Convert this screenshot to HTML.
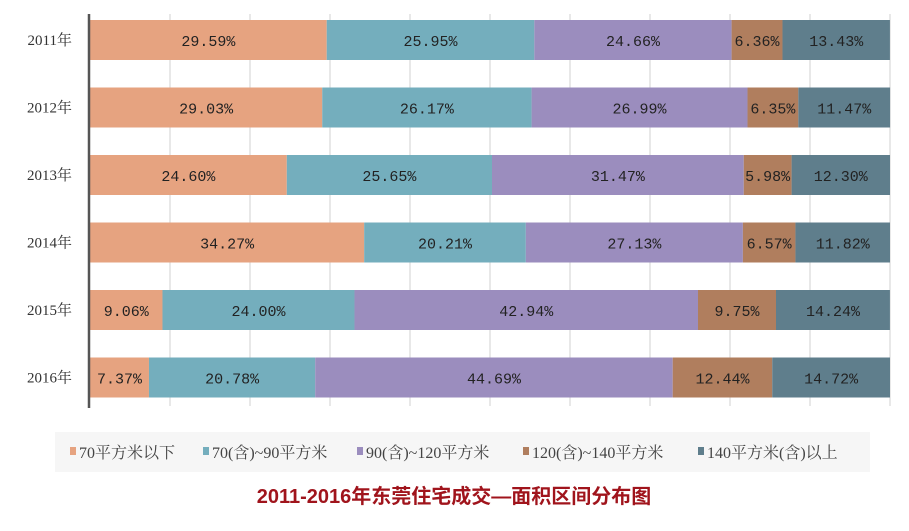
<!DOCTYPE html>
<html><head><meta charset="utf-8"><style>
body{margin:0;background:#fff;width:909px;height:526px;overflow:hidden;font-family:"Liberation Serif","Noto Serif CJK SC",serif}
</style></head><body>
<svg id="c" width="909" height="526"></svg>
<script>
const years=["2011年","2012年","2013年","2014年","2015年","2016年"];
const s1=[29.59,29.03,24.60,34.27,9.06,7.37];
const s2=[25.95,26.17,25.65,20.21,24.00,20.78];
const s3=[24.66,26.99,31.47,27.13,42.94,44.69];
const s4=[6.36,6.35,5.98,6.57,9.75,12.44];
const s5=[13.43,11.47,12.30,11.82,14.24,14.72];
const seriesNames=["70平方米以下","70(含)~90平方米","90(含)~120平方米","120(含)~140平方米","140平方米(含)以上"];
const colors=["#E6A380","#74AEBD","#9B8DBE","#B07E5E","#5F7E8C"];
const series=[s1,s2,s3,s4,s5];
const NS="http://www.w3.org/2000/svg",svg=document.getElementById('c');
const x0=90,x1=890,xs=v=>x0+v/100*(x1-x0);
const yRow=i=>20+i*67.5,bh=40;
function mk(t,a){const e=document.createElementNS(NS,t);for(const k in a)e.setAttribute(k,a[k]);svg.appendChild(e);return e;}
for(let k=1;k<=10;k++){const g=mk('line',{x1:xs(k*10),x2:xs(k*10),y1:14,y2:406,stroke:'#d8d8d8','stroke-width':1.2});

}
years.forEach((y,i)=>{
 const t=mk('text',{x:72,y:yRow(i)+bh/2+5,'text-anchor':'end','font-size':15,fill:'#333'});t.textContent=y;
 
 
 let acc=0;
 series.forEach((s,j)=>{
  const r=mk('rect',{x:xs(acc),y:yRow(i),width:xs(acc+s[i])-xs(acc),height:bh,fill:colors[j]});
  
  
  const tx=mk('text',{x:(xs(acc)+xs(acc+s[i]))/2,y:yRow(i)+bh/2+6,'text-anchor':'middle','font-size':15,fill:'#222','font-family':'Liberation Mono,monospace'});
  tx.textContent=s[i].toFixed(2)+'%';
  
  
  acc+=s[i];
 });
});
const ax=mk('line',{x1:89,x2:89,y1:14,y2:408,stroke:'#555','stroke-width':2.5});


const lb=mk('rect',{x:55,y:432,width:815,height:40,fill:'#f6f6f6'});


const lx=[70,203,357,523,698];
seriesNames.forEach((n,j)=>{
 const m=mk('rect',{x:lx[j],y:447,width:6,height:8,fill:colors[j]});
 
 
 const t=mk('text',{x:lx[j]+9,y:458,'font-size':16,fill:'#444'});t.textContent=n;
 
 
});
const tt=mk('text',{x:454,y:503,'text-anchor':'middle','font-size':20,'font-weight':'bold',fill:'#A0141C','font-family':'Liberation Sans,Noto Sans CJK SC,sans-serif'});
tt.textContent='2011-2016年东莞住宅成交—面积区间分布图';


</script>
</body></html>
